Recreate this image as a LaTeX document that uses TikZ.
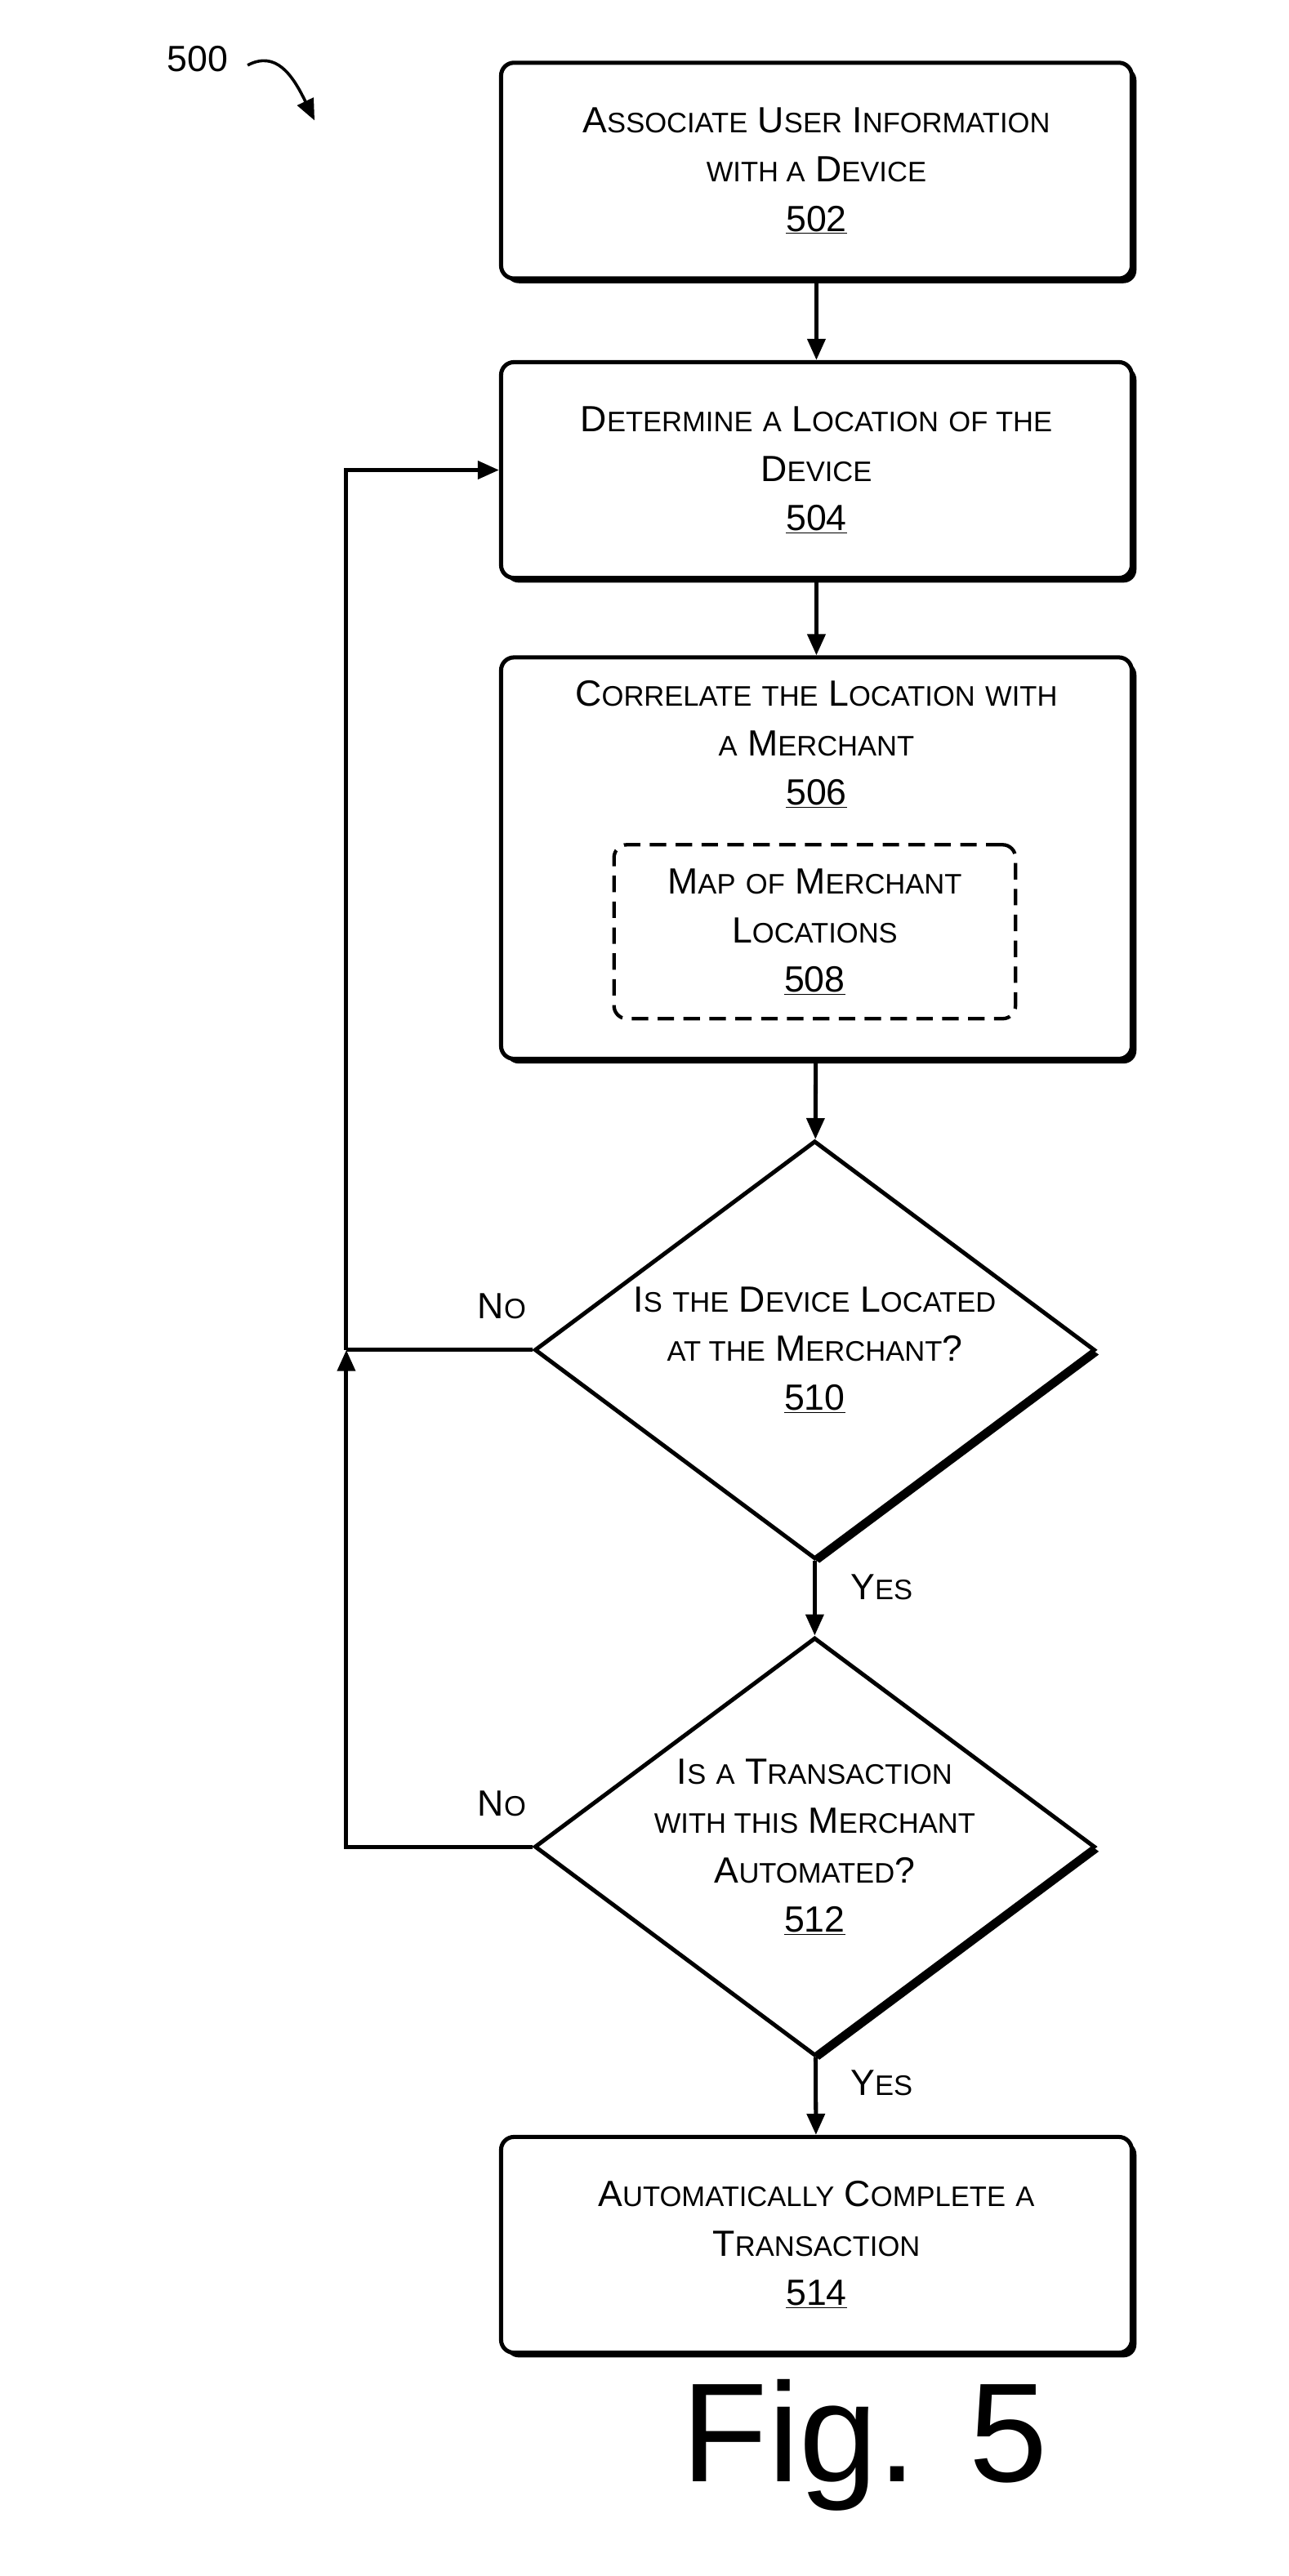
\documentclass[tikz,border=0pt]{standalone}
\usepackage{fontspec}
\setmainfont{Liberation Sans}
\usetikzlibrary{shapes.geometric,shadows,arrows.meta}
\newcommand\W[2]{#1{\fontsize{24}{42}\selectfont\MakeUppercase{#2}}}
\newcommand\s[1]{{\fontsize{24}{42}\selectfont\MakeUppercase{#1}}}
\newcommand\n[1]{\underline{#1}}
\begin{document}
\begin{tikzpicture}[x=0.05cm,y=-0.05cm,
  txt/.style={font=\fontsize{31}{42}\selectfont,align=center},
  sh/.style={drop shadow={shadow xshift=4pt,shadow yshift=-4pt,opacity=1,fill=black}},
  box/.style={draw,line width=3.5pt,rounded corners=11pt,fill=white,sh,minimum width=18.85cm,minimum height=6.45cm,txt},
  dia/.style={draw,diamond,shape aspect=1.34,line width=3.5pt,fill=white,sh,minimum width=16.75cm,minimum height=12.5cm,inner sep=0pt,txt},
  arr/.style={line width=3.5pt,-{Triangle[length=18pt,width=15pt]}},
  ln/.style={line width=3.5pt}]
\useasboundingbox (0,0) rectangle (770,1540);
\node[box] (b502) at (488,102) {\W{A}{ssociate} \W{U}{ser} \W{I}{nformation}\\\s{with a} \W{D}{evice}\\\n{502}};
\node[box] (b504) at (488,281) {\W{D}{etermine} \s{a} \W{L}{ocation} \s{of the}\\\W{D}{evice}\\\n{504}};
\node[box,minimum height=12cm] (b506) at (488,513) {};
\node[txt] (t506) at (488,445) {\W{C}{orrelate} \s{the} \W{L}{ocation} \s{with}\\\s{a} \W{M}{erchant}\\\n{506}};
\node[draw,line width=3pt,dashed,dash pattern=on 14pt off 8pt,rounded corners=11pt,minimum width=12cm,minimum height=5.2cm,txt] (b508) at (487,557) {\W{M}{ap} \s{of} \W{M}{erchant}\\\W{L}{ocations}\\\n{508}};
\node[dia] (d510) at (487,807) {\W{I}{s} \s{the} \W{D}{evice} \W{L}{ocated}\\\s{at the} \W{M}{erchant}?\\\n{510}};
\node[dia] (d512) at (487,1104) {\W{I}{s} \s{a} \W{T}{ransaction}\\\s{with this} \W{M}{erchant}\\\W{A}{utomated}?\\\n{512}};
\node[box] (b514) at (488,1342) {\W{A}{utomatically} \W{C}{omplete} \s{a}\\\W{T}{ransaction}\\\n{514}};
\draw[arr] (b502) -- (b504);
\draw[arr] (b504) -- (b506);
\draw[arr] (b506) -- (d510);
\draw[arr] (d510) -- (d512);
\draw[arr] (d512) -- (b514);
\coordinate (c1) at (207,807);
\coordinate (c2) at (207,281);
\coordinate (c3) at (207,1104);
\draw[ln] (d510.west) -- (c1);
\draw[arr] (c1) -- (c2) -- (b504.west);
\draw[arr] (d512.west) -- (c3) -- (c1);
\node[txt] (no1) at (300,781) {\W{N}{o}};
\node[txt] (no2) at (300,1078) {\W{N}{o}};
\node[txt] (y1) at (527,949) {\W{Y}{es}};
\node[txt] (y2) at (527,1245) {\W{Y}{es}};
\node[font=\fontsize{120}{130}\selectfont] (fig) at (517,1462) {Fig. 5};
\node[txt] (l500) at (118,35) {500};
\coordinate (a500) at (188,72);
\draw[arr,line width=2.5pt] (148,39) .. controls (165,30) and (175,45) .. (a500);
\end{tikzpicture}
\end{document}
